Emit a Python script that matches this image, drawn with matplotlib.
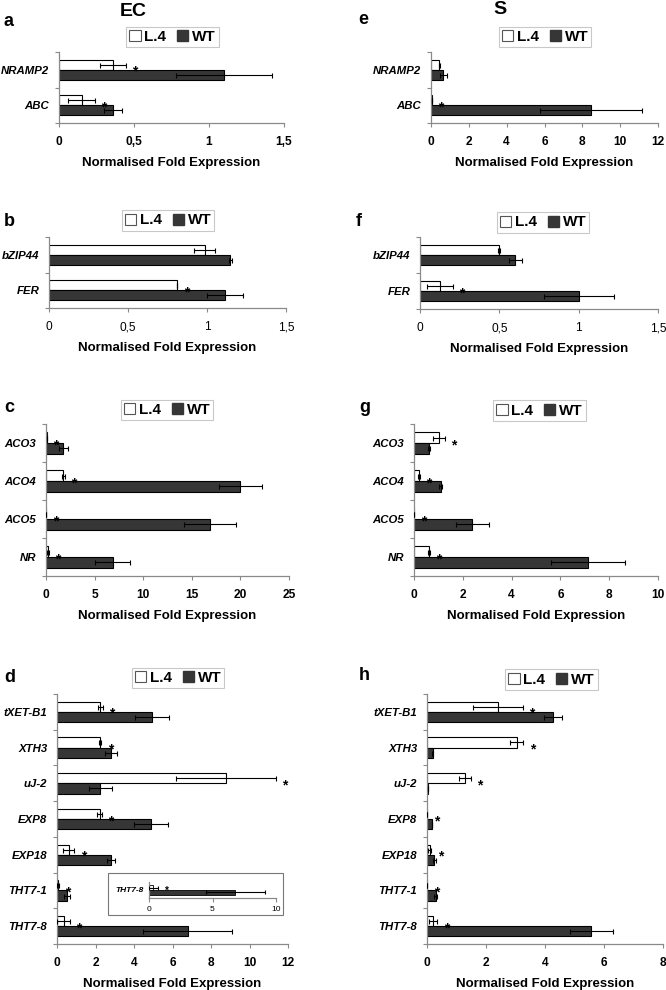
import matplotlib
matplotlib.use("Agg")
import matplotlib.pyplot as plt
from matplotlib.patches import Patch, Rectangle
from matplotlib.ticker import FuncFormatter, MultipleLocator
import numpy as np

plt.rcParams['font.family'] = ['Liberation Sans', 'DejaVu Sans']

# ---------------- data ----------------
a_genes = ["NRAMP2", "ABC"]
a_l4 = [0.36, 0.15]
a_l4_err = [0.085, 0.09]
a_wt = [1.10, 0.36]
a_wt_err = [0.32, 0.06]
a_sig = [True, True]

e_genes = ["NRAMP2", "ABC"]
e_l4 = [0.44, 0.05]
e_l4_err = [0.02, 0.0]
e_wt = [0.65, 8.48]
e_wt_err = [0.2, 2.7]
e_sig = [False, True]

b_genes = ["bZIP44", "FER"]
b_l4 = [0.985, 0.813]
b_l4_err = [0.065, 0.0]
b_wt = [1.147, 1.115]
b_wt_err = [0.01, 0.113]
b_sig = [False, True]

f_genes = ["bZIP44", "FER"]
f_l4 = [0.497, 0.126]
f_l4_err = [0.005, 0.08]
f_wt = [0.60, 1.0]
f_wt_err = [0.04, 0.22]
f_sig = [False, True]

c_genes = ["ACO3", "ACO4", "ACO5", "NR"]
c_l4 = [0.1, 1.78, 0.05, 0.2]
c_l4_err = [0.0, 0.17, 0.0, 0.1]
c_wt = [1.78, 20.0, 16.85, 6.85]
c_wt_err = [0.45, 2.2, 2.67, 1.8]
c_sig = [True, True, True, True]

g_genes = ["ACO3", "ACO4", "ACO5", "NR"]
g_l4 = [1.02, 0.2, 0.02, 0.61]
g_l4_err = [0.25, 0.05, 0.0, 0.05]
g_wt = [0.61, 1.09, 2.39, 7.13]
g_wt_err = [0.04, 0.07, 0.68, 1.53]
g_sig = [True, True, True, True]

d_genes = ["tXET-B1", "XTH3", "uJ-2", "EXP8", "EXP18", "THT7-1", "THT7-8"]
d_l4 = [2.25, 2.25, 8.76, 2.21, 0.6, 0.05, 0.35]
d_l4_err = [0.12, 0.05, 2.6, 0.13, 0.3, 0.03, 0.33]
d_wt = [4.93, 2.8, 2.25, 4.89, 2.8, 0.52, 6.79]
d_wt_err = [0.88, 0.3, 0.6, 0.88, 0.22, 0.17, 2.32]
d_sig = [True] * 7

inset_genes = ["THT7-8"]
inset_l4 = [0.35]
inset_l4_err = [0.33]
inset_wt = [6.79]
inset_wt_err = [2.32]
inset_sig = [True]

h_genes = ["tXET-B1", "XTH3", "uJ-2", "EXP8", "EXP18", "THT7-1", "THT7-8"]
h_l4 = [2.4, 3.05, 1.29, 0.01, 0.1, 0.01, 0.21]
h_l4_err = [0.85, 0.22, 0.2, 0.0, 0.05, 0.0, 0.14]
h_wt = [4.26, 0.19, 0.05, 0.16, 0.25, 0.3, 5.57]
h_wt_err = [0.3, 0.02, 0.0, 0.0, 0.04, 0.05, 0.72]
h_sig = [True] * 7

# ---------------- layout helpers ----------------
W, H = 666, 990
fig = plt.figure(figsize=(W / 100, H / 100), dpi=100)

WT_COLOR = "#363636"
SPINE = "#8a8a8a"


def px_axes(x0, y0, x1, y1):
    return fig.add_axes([x0 / W, 1 - y1 / H, (x1 - x0) / W, (y1 - y0) / H])


def comma_fmt(v, pos):
    return ("%g" % v).replace(".", ",")


def draw_panel(ax, genes, l4, l4e, wt, wte, sig, xmax, step, tick_bold=True,
               gene_fs=8.2, tick_fs=8.6, xlabel=True, bar_lw=0.8, star_fs=10, cap=1.8):
    n = len(genes)
    y = np.arange(n)
    hgt = 0.286
    ax.barh(y - hgt / 2, l4, height=hgt, color="white", edgecolor="black", linewidth=bar_lw, zorder=2)
    ax.barh(y + hgt / 2, wt, height=hgt, color=WT_COLOR, edgecolor="black", linewidth=bar_lw, zorder=2)
    ax.errorbar(l4, y - hgt / 2, xerr=l4e, fmt="none", ecolor="black", elinewidth=0.8,
                capsize=cap, capthick=0.8, zorder=3)
    ax.errorbar(wt, y + hgt / 2, xerr=wte, fmt="none", ecolor="black", elinewidth=0.8,
                capsize=cap, capthick=0.8, zorder=3)
    for i in range(n):
        if sig[i]:
            ax.annotate("*", xy=(l4[i] + l4e[i], y[i] - hgt / 2 + 0.2), xytext=(6.5, 0),
                        textcoords="offset points", ha="center", va="center",
                        fontsize=star_fs, fontweight="bold", zorder=4)
    ax.set_ylim(n - 0.5, -0.5)
    ax.set_xlim(0, xmax)
    ax.xaxis.set_major_locator(MultipleLocator(step))
    ax.xaxis.set_major_formatter(FuncFormatter(comma_fmt))
    ax.set_yticks(np.arange(n + 1) - 0.5)
    ax.set_yticklabels([])
    ax.set_yticks(y, minor=True)
    ax.set_yticklabels(genes, minor=True, fontsize=gene_fs, fontweight="bold", fontstyle="italic")
    ax.tick_params(axis="y", which="minor", length=0, pad=7)
    ax.tick_params(axis="y", which="major", length=3, color=SPINE, direction="out")
    ax.tick_params(axis="x", length=3, color=SPINE, direction="out", pad=6.5, labelsize=tick_fs)
    for lab in ax.get_xticklabels():
        lab.set_fontweight("bold" if tick_bold else "normal")
    for s in ["top", "right"]:
        ax.spines[s].set_visible(False)
    for s in ["left", "bottom"]:
        ax.spines[s].set_color(SPINE)
        ax.spines[s].set_linewidth(0.9)
    if xlabel:
        ax.set_xlabel("Normalised Fold Expression", fontsize=9.5, fontweight="bold", labelpad=6)


def add_legend(cx, cy):
    handles = [Patch(facecolor="white", edgecolor="#555555", linewidth=0.8),
               Patch(facecolor=WT_COLOR, edgecolor=WT_COLOR)]
    leg = fig.legend(handles, ["L.4", "WT"], loc="center", bbox_to_anchor=(cx / W, 1 - cy / H),
                     ncol=2, prop={"weight": "bold", "size": 11}, frameon=True, fancybox=False,
                     handlelength=0.75, handleheight=0.75, handletextpad=0.25, columnspacing=0.7,
                     borderpad=0.2, borderaxespad=0)
    leg.get_frame().set_edgecolor("#bbbbbb")
    leg.get_frame().set_linewidth(0.8)


def letter(x, y, s):
    fig.text(x / W, 1 - y / H, s, fontsize=13, fontweight="bold", ha="left", va="center")


# ---------------- panels ----------------
ax_a = px_axes(59, 52, 284, 123)
draw_panel(ax_a, a_genes, a_l4, a_l4_err, a_wt, a_wt_err, a_sig, 1.5, 0.5)
ax_e = px_axes(431, 52, 658, 123)
draw_panel(ax_e, e_genes, e_l4, e_l4_err, e_wt, e_wt_err, e_sig, 12, 2)
ax_b = px_axes(49, 237, 286, 308)
draw_panel(ax_b, b_genes, b_l4, b_l4_err, b_wt, b_wt_err, b_sig, 1.5, 0.5, tick_bold=False)
ax_f = px_axes(420, 237, 658, 309)
draw_panel(ax_f, f_genes, f_l4, f_l4_err, f_wt, f_wt_err, f_sig, 1.5, 0.5, tick_bold=False)
ax_c = px_axes(46, 424, 289, 576)
draw_panel(ax_c, c_genes, c_l4, c_l4_err, c_wt, c_wt_err, c_sig, 25, 5)
ax_g = px_axes(414, 424, 658, 576)
draw_panel(ax_g, g_genes, g_l4, g_l4_err, g_wt, g_wt_err, g_sig, 10, 2)
ax_d = px_axes(57, 694, 288, 944)
draw_panel(ax_d, d_genes, d_l4, d_l4_err, d_wt, d_wt_err, d_sig, 12, 2)
ax_h = px_axes(427, 694, 663, 944)
draw_panel(ax_h, h_genes, h_l4, h_l4_err, h_wt, h_wt_err, h_sig, 8, 2)

# inset in panel d
fig.patches.append(Rectangle((108 / W, 1 - 915 / H), (283 - 108) / W, (915 - 873) / H,
                             transform=fig.transFigure, facecolor="white", edgecolor="#777777",
                             linewidth=0.8, zorder=5))
ax_in = px_axes(149, 882, 276, 898)
ax_in.set_zorder(6)
draw_panel(ax_in, inset_genes, inset_l4, inset_l4_err, inset_wt, inset_wt_err, inset_sig, 10, 5,
           tick_bold=False, gene_fs=6, tick_fs=6, xlabel=False, bar_lw=0.6, star_fs=7, cap=1.5)
ax_in.tick_params(axis="x", pad=3)
ax_in.tick_params(axis="y", which="minor", pad=4)
ax_in.set_yticks([], minor=False)
ax_in.set_yticks([0], minor=True)

for cx, cy in [(172.5, 37), (545, 37), (168, 220.5), (543, 222.5), (167, 410), (539.5, 410.5),
               (178, 678), (551.5, 679.5)]:
    add_legend(cx, cy)

fig.text(133 / W, 1 - 12 / H, "EC", fontsize=14, fontweight="bold", ha="center", va="center")
fig.text(500 / W, 1 - 10 / H, "S", fontsize=14, fontweight="bold", ha="center", va="center")
for x, y, s in [(4, 22, "a"), (358, 20, "e"), (4, 222, "b"), (356, 222, "f"), (4, 408, "c"),
                (359, 408, "g"), (4, 677, "d"), (359, 675, "h")]:
    letter(x, y, s)

fig.savefig("out.png", dpi=100)
